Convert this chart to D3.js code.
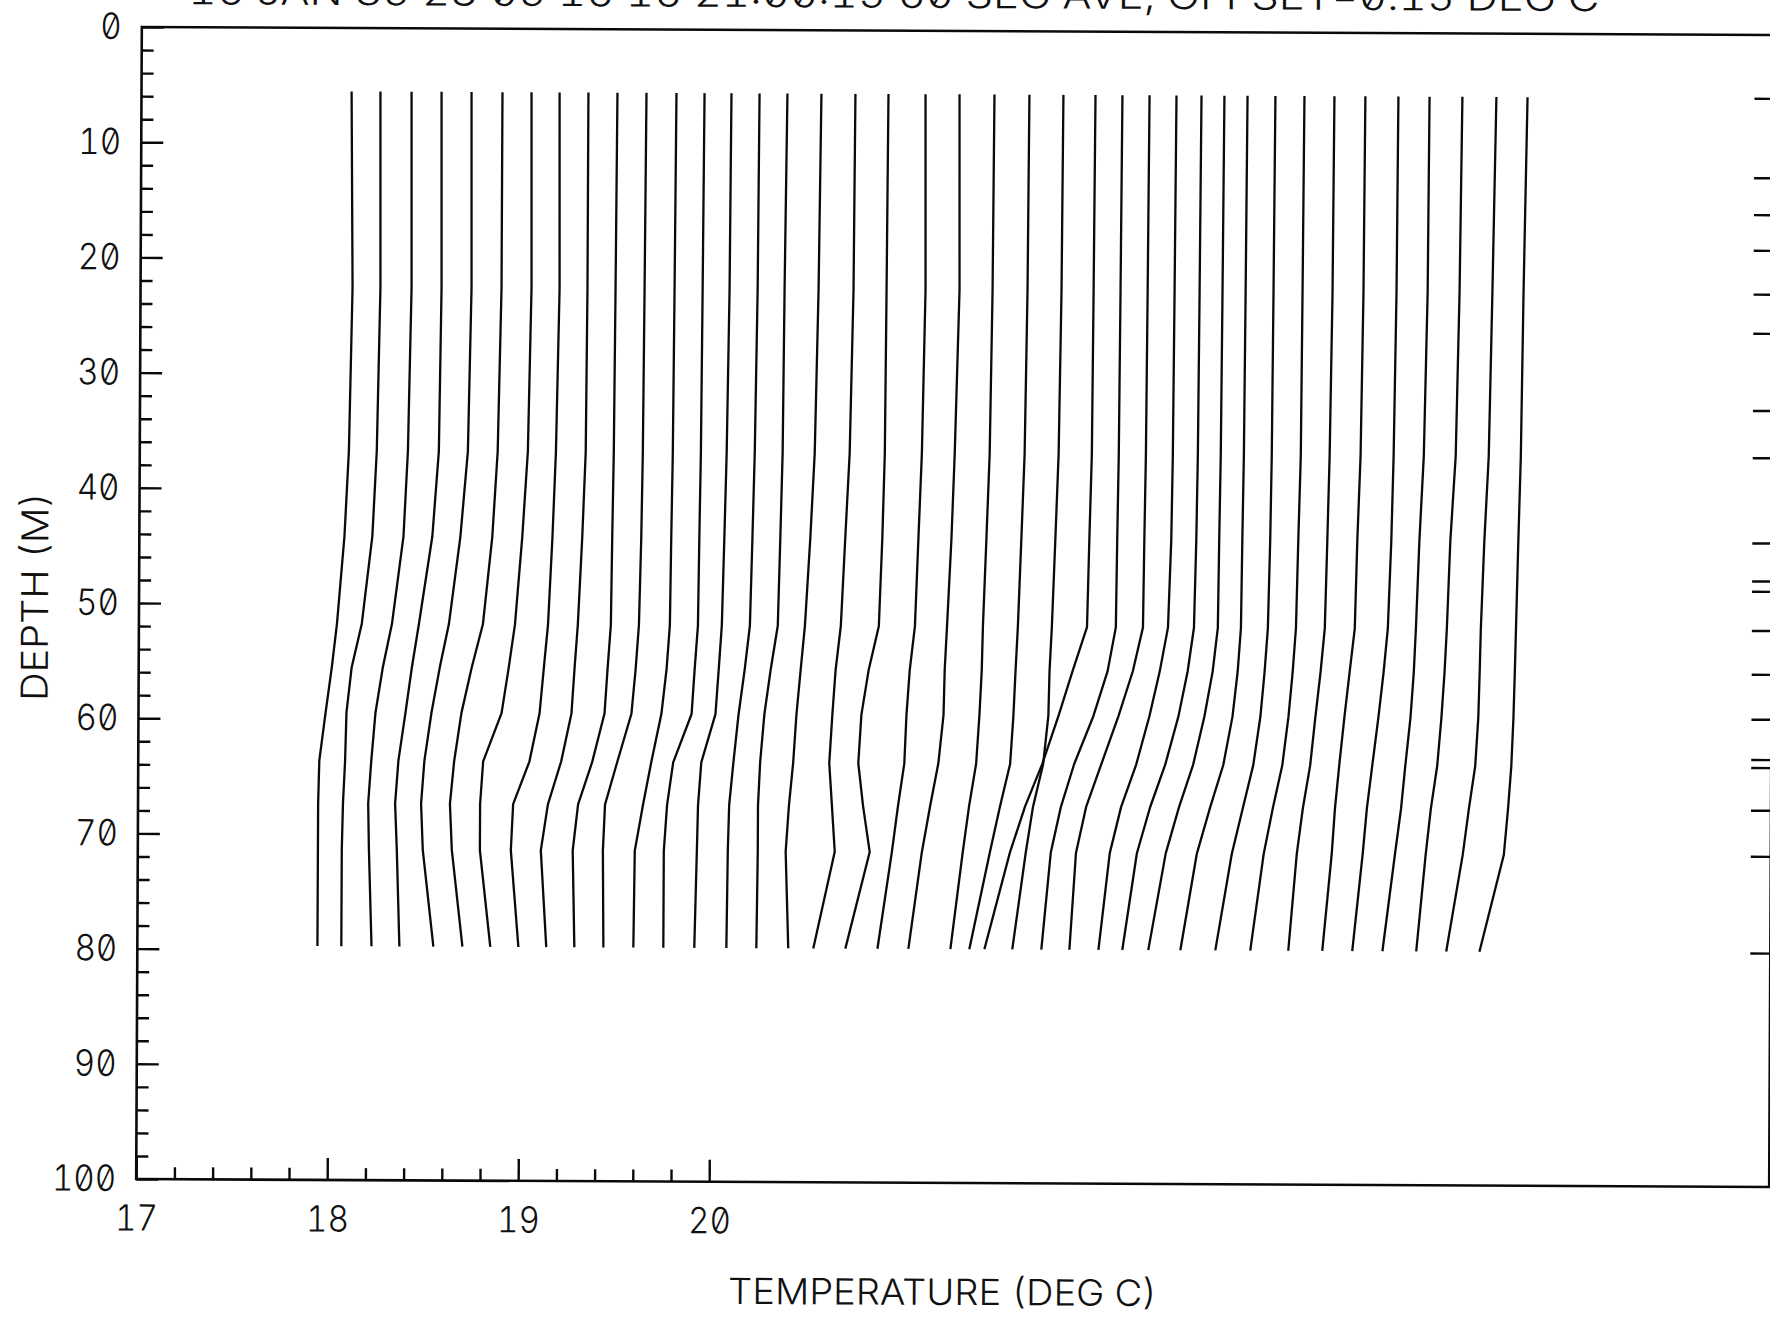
<!DOCTYPE html>
<html><head><meta charset="utf-8">
<script src="https://cdn.jsdelivr.net/npm/d3@7"></script>
<style>
html,body{margin:0;padding:0;background:#fff;}
svg{display:block;}
text{font-family:Inter,"DejaVu Sans",sans-serif;font-weight:300;font-feature-settings:"zero" 1,"tnum" 1;fill:#111;}
</style></head><body>
<svg id="chart" width="1770" height="1317"></svg>
<script>
// ---------- data ----------
const titleText = "16 JAN 85 23 05 16 16 21:00:15  60 SEC AVE, OFFSET=0.15 DEG C";
const xLabel = "TEMPERATURE (DEG C)";
const yLabel = "DEPTH (M)";
const OFFSET = 0.15;               // each successive profile shifted by 0.15 deg C
const xMajorTicks = [17, 18, 19, 20];
const xMinorTicks = [17.2,17.4,17.6,17.8,18.2,18.4,18.6,18.8,19.2,19.4,19.6,19.8];
const yMajorTicks = [0,10,20,30,40,50,60,70,80,90,100];
const yMinorTicks = [2,4,6,8,12,14,16,18,22,24,26,28,32,34,36,38,42,44,46,48,52,54,56,58,62,64,66,68,72,74,76,78,82,84,86,88,92,94,96,98];
const sensorDepths = [5.5,12.4,15.6,18.7,22.5,25.9,32.6,36.7,44.1,47.4,48.3,51.7,55.5,59.4,62.9,63.6,67.3,71.3,79.7];
const depths = [5.5,22.5,36.7,44.1,51.7,55.5,59.4,63.6,67.3,71.3,79.7];
// temperature (deg C, before offset) of each profile at the depths above
const profiles = [
[18.100,18.110,18.095,18.074,18.037,18.011,17.980,17.948,17.943,17.943,17.943],
[18.101,18.106,18.091,18.070,18.017,17.965,17.939,17.933,17.923,17.918,17.918],
[18.114,18.119,18.104,18.083,18.025,17.978,17.941,17.920,17.905,17.910,17.926],
[18.121,18.126,18.116,18.084,18.016,17.980,17.948,17.912,17.896,17.906,17.922],
[18.128,18.133,18.118,18.081,18.023,17.976,17.934,17.898,17.882,17.892,17.950],
[18.140,18.140,18.124,18.098,18.051,17.993,17.941,17.904,17.883,17.894,17.952],
[18.142,18.147,18.132,18.105,18.069,18.037,18.001,17.906,17.891,17.891,17.948],
[18.139,18.144,18.129,18.113,18.092,18.071,18.050,17.998,17.914,17.903,17.945],
[18.140,18.140,18.135,18.119,18.098,18.082,18.067,18.014,17.946,17.910,17.941],
[18.142,18.137,18.132,18.126,18.121,18.105,18.090,18.027,17.954,17.927,17.938],
[18.144,18.139,18.134,18.128,18.118,18.102,18.081,18.008,17.945,17.935,17.940],
[18.151,18.146,18.141,18.135,18.130,18.114,18.088,18.036,17.994,17.952,17.947],
[18.148,18.143,18.138,18.132,18.127,18.111,18.096,18.001,17.970,17.954,17.954],
[18.139,18.134,18.123,18.113,18.102,18.087,18.071,17.998,17.982,17.977,17.966],
[18.136,18.131,18.120,18.110,18.099,18.073,18.042,18.016,17.995,17.989,17.984],
[18.132,18.122,18.116,18.106,18.095,18.059,18.027,18.006,17.996,17.996,17.991],
[18.160,18.150,18.134,18.113,18.087,18.066,18.045,18.029,18.008,17.992,18.008],
[18.188,18.183,18.167,18.146,18.125,18.099,18.083,18.068,18.083,18.099,17.989],
[18.211,18.206,18.201,18.190,18.174,18.122,18.085,18.070,18.096,18.132,18.007],
[18.255,18.260,18.245,18.229,18.213,18.187,18.171,18.161,18.129,18.098,18.025],
[18.283,18.288,18.267,18.252,18.231,18.220,18.215,18.189,18.147,18.105,18.037],
[18.316,18.311,18.300,18.285,18.269,18.264,18.253,18.237,18.201,18.169,18.107],
[18.349,18.344,18.333,18.318,18.302,18.291,18.281,18.265,18.213,18.161,18.056],
[18.377,18.372,18.361,18.346,18.330,18.319,18.314,18.288,18.236,18.199,18.131],
[18.395,18.390,18.385,18.374,18.364,18.290,18.217,18.133,18.044,17.966,17.835],
[18.386,18.381,18.376,18.370,18.365,18.323,18.250,18.150,18.082,18.030,17.983],
[18.378,18.373,18.368,18.362,18.357,18.305,18.231,18.142,18.064,18.012,17.980],
[18.369,18.364,18.359,18.353,18.338,18.296,18.243,18.175,18.097,18.039,17.982],
[18.350,18.345,18.340,18.334,18.324,18.292,18.245,18.177,18.099,18.031,17.957],
[18.320,18.315,18.310,18.304,18.299,18.273,18.231,18.173,18.100,18.032,17.943],
[18.291,18.286,18.281,18.275,18.270,18.254,18.228,18.181,18.113,18.045,17.961],
[18.287,18.282,18.277,18.271,18.261,18.245,18.224,18.188,18.135,18.078,17.994],
[18.289,18.284,18.279,18.268,18.258,18.242,18.221,18.190,18.142,18.095,18.027],
[18.296,18.291,18.280,18.270,18.259,18.238,18.212,18.186,18.149,18.118,18.076],
[18.308,18.303,18.292,18.277,18.266,18.240,18.214,18.188,18.167,18.151,18.104],
[18.331,18.326,18.315,18.305,18.289,18.268,18.242,18.211,18.184,18.163,18.111],
[18.344,18.339,18.323,18.302,18.286,18.276,18.260,18.234,18.213,18.182,18.119],
[18.366,18.356,18.340,18.314,18.298,18.287,18.272,18.251,18.219,18.193,18.146],
[18.394,18.378,18.363,18.342,18.326,18.321,18.315,18.300,18.268,18.237,18.153],
[18.407,18.391,18.381,18.370,18.360,18.355,18.349,18.339,18.323,18.302,18.177]
];
const xDomain = [17, 25.55];
const yDomain = [0, 100];

// ---------- layout ----------
const L = 139, R = 1772, T = 31, B = 1183;
const ink = "#0a0a0a";
const svg = d3.select("#chart");
svg.append("rect").attr("width",1770).attr("height",1317).attr("fill","#fff");
const g = svg.append("g").attr("transform", `rotate(0.28 ${(L+R)/2} ${(T+B)/2})`);

const x = d3.scaleLinear().domain(xDomain).range([L, R]);
const y = d3.scaleLinear().domain(yDomain).range([T, B]);

const SX = 0.92; // condensed plotter lettering
function styleAxis(sel){
  sel.select(".domain").remove();
  sel.attr("font-family", null).attr("font-size", null);
  sel.selectAll("line").attr("stroke", ink).attr("stroke-width", 2.4);
  sel.selectAll("text").style("font-size","36px").attr("fill", ink);
}

// frame
g.append("rect").attr("x",L).attr("y",T).attr("width",R-L).attr("height",B-T)
  .attr("fill","none").attr("stroke",ink).attr("stroke-width",2.6);

// left axis
g.append("g").attr("transform",`translate(${L},0)`)
  .call(d3.axisLeft(y).tickValues(yMinorTicks).tickSize(-12).tickFormat(""))
  .call(styleAxis);
g.append("g").attr("transform",`translate(${L},0)`)
  .call(d3.axisLeft(y).tickValues(yMajorTicks).tickSize(-22).tickPadding(20).tickFormat(d3.format("d")))
  .call(styleAxis)
  .call(s => s.selectAll("text").attr("x", -20/SX).attr("transform", `scale(${SX},1)`));

// bottom axis
g.append("g").attr("transform",`translate(0,${B})`)
  .call(d3.axisBottom(x).tickValues(xMinorTicks).tickSize(-12).tickFormat(""))
  .call(styleAxis);
g.append("g").attr("transform",`translate(0,${B})`)
  .call(d3.axisBottom(x).tickValues(xMajorTicks).tickSize(-22).tickPadding(26).tickFormat(d3.format("d")))
  .call(styleAxis)
  .call(s => s.selectAll("text").attr("transform", `scale(${SX},1)`));

// right axis: sensor depth marks
g.append("g").attr("transform",`translate(${R},0)`)
  .call(d3.axisRight(y).tickValues(sensorDepths).tickSize(-20).tickFormat(""))
  .call(styleAxis);

// profiles
const line = d3.line().x(d => x(d[0])).y(d => y(d[1]));
g.append("g").selectAll("path").data(profiles).join("path")
  .attr("d", (p, i) => line(p.map((t, k) => [t + OFFSET * i, depths[k]])))
  .attr("fill","none").attr("stroke",ink).attr("stroke-width",2.3).attr("stroke-linejoin","round");

// texts
g.append("text").attr("x", 891).attr("y", 8).attr("text-anchor","middle")
  .attr("textLength", 1411).attr("lengthAdjust","spacingAndGlyphs")
  .style("font-size","37px").text(titleText);
g.append("text").attr("x", 946).attr("y", 1305).attr("text-anchor","middle")
  .attr("textLength", 429).attr("lengthAdjust","spacingAndGlyphs")
  .style("font-size","36px").text(xLabel);
g.append("text").attr("transform","translate(48,601) rotate(-90)").attr("text-anchor","middle")
  .attr("textLength", 209).attr("lengthAdjust","spacingAndGlyphs")
  .style("font-size","37px").text(yLabel);
</script>
</body></html>
